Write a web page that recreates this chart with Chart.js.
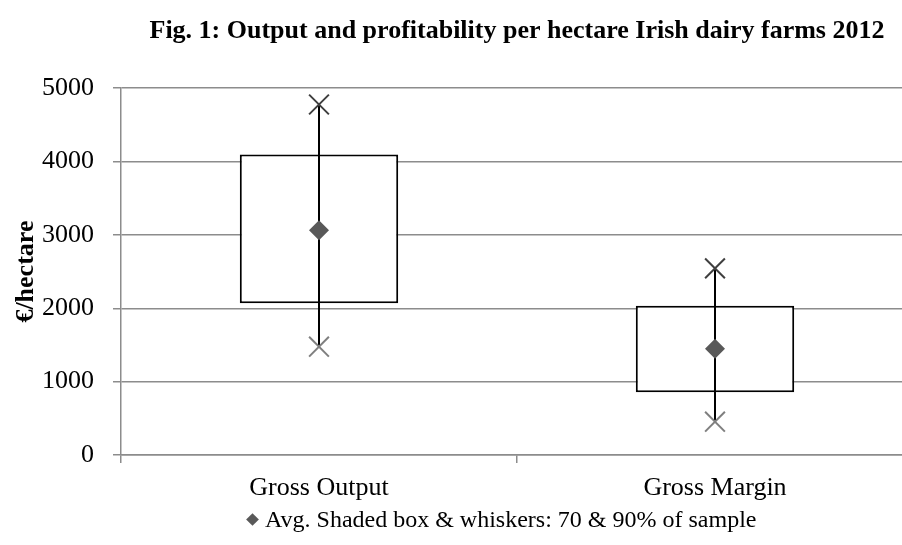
<!DOCTYPE html>
<html>
<head>
<meta charset="utf-8">
<script src="https://cdn.jsdelivr.net/npm/chart.js@4"></script>
<style>
  html, body { margin: 0; padding: 0; background: #fff; overflow: hidden; }
  #wrap { position: relative; width: 902px; height: 545px; overflow: hidden; }
  #legend { position: absolute; left: 246px; top: 506px; font: 24px "Liberation Serif", "Times New Roman", serif; color: #000; white-space: nowrap; }
  #legend .mark { display: inline-block; width: 9px; height: 9px; background: #595959; transform: rotate(45deg); margin: 0 8px 3px 2px; vertical-align: middle; }
</style>
</head>
<body>
<div id="wrap">
  <canvas id="grafico" width="930" height="545"></canvas>
  <div id="legend"></div>
</div>
<script>
// dados
var categorias = ['Gross Output', 'Gross Margin'];
var media = [3065, 1448];
var caixaBaixo = [2067, 854];
var caixaAlto = [4097, 2034];
var bigodeBaixo = [1476, 454];
var bigodeAlto = [4778, 2544];
var ticksY = [0, 1000, 2000, 3000, 4000, 5000];
var tituloGrafico = 'Fig. 1: Output and profitability per hectare Irish dairy farms 2012';
var tituloY = '€/hectare';
var legendaTexto = 'Avg. Shaded box & whiskers: 70 & 90% of sample';

var fonte = '"Liberation Serif", "Times New Roman", serif';

var caixas = [];
for (i = 0; i < categorias.length; i++) {
  caixas.push([caixaBaixo[i], caixaAlto[i]]);
}

// linhas dos bigodes, uma por categoria
var datasetsBigode = [];
for (i = 0; i < categorias.length; i++) {
  datasetsBigode.push({
    type: 'line',
    label: 'bigode ' + categorias[i],
    data: [
      { x: categorias[i], y: bigodeBaixo[i] },
      { x: categorias[i], y: bigodeAlto[i] }
    ],
    borderColor: '#000',
    borderWidth: 2,
    pointStyle: 'crossRot',
    pointRadius: 14,
    pointBorderWidth: 2,
    pointBorderColor: ['#808080', '#404040'],
    pointBackgroundColor: 'transparent',
    order: 2
  });
}

var ctx = document.getElementById('grafico').getContext('2d');
var chart = new Chart(ctx, {
  type: 'bar',
  data: {
    labels: categorias,
    datasets: [
      {
        label: 'caixa',
        data: caixas,
        backgroundColor: '#fff',
        borderColor: '#000',
        borderWidth: 2,
        borderSkipped: false,
        categoryPercentage: 1,
        barPercentage: 0.4,
        order: 3
      }
    ].concat(datasetsBigode).concat([
      {
        type: 'line',
        label: legendaTexto,
        data: media,
        showLine: false,
        pointStyle: 'rectRot',
        pointRadius: 10,
        pointBackgroundColor: '#595959',
        pointBorderColor: '#595959',
        pointBorderWidth: 0,
        order: 1
      }
    ])
  },
  options: {
    responsive: false,
    animation: false,
    layout: {
      padding: { top: 0, right: 17, bottom: 38, left: 0 }
    },
    plugins: {
      legend: { display: false },
      tooltip: { enabled: false },
      title: {
        display: true,
        text: tituloGrafico,
        fullSize: false,
        color: '#000',
        font: { family: fonte, size: 26, weight: 'bold' },
        padding: { top: 16, bottom: 41 }
      }
    },
    scales: {
      x: {
        type: 'category',
        offset: true,
        grid: {
          offset: true,
          drawOnChartArea: false,
          drawTicks: true,
          tickLength: 8,
          color: '#8c8c8c',
          lineWidth: 1.5
        },
        border: { color: '#8c8c8c', width: 1.5 },
        ticks: {
          color: '#000',
          padding: 10,
          font: { family: fonte, size: 26 }
        },
        afterFit: function (escala) { escala.height = 52; }
      },
      y: {
        min: 0,
        max: 5000,
        afterBuildTicks: function (escala) {
          escala.ticks = ticksY.map(function (v) { return { value: v }; });
        },
        grid: {
          color: '#8c8c8c',
          lineWidth: 1.5,
          tickLength: 8
        },
        border: { color: '#8c8c8c', width: 1.5 },
        ticks: {
          color: '#000',
          padding: 19,
          font: { family: fonte, size: 26 },
          callback: function (v) { return String(v); }
        },
        title: {
          display: true,
          text: tituloY,
          color: '#000',
          font: { family: fonte, size: 26, weight: 'bold' },
          padding: { top: 11, bottom: 0 }
        },
        afterFit: function (escala) { escala.width = 121; }
      }
    }
  }
});

// legenda em html
document.getElementById('legend').innerHTML = '<span class="mark"></span>' +
  legendaTexto.replace(/&/g, '&amp;');
</script>
</body>
</html>
